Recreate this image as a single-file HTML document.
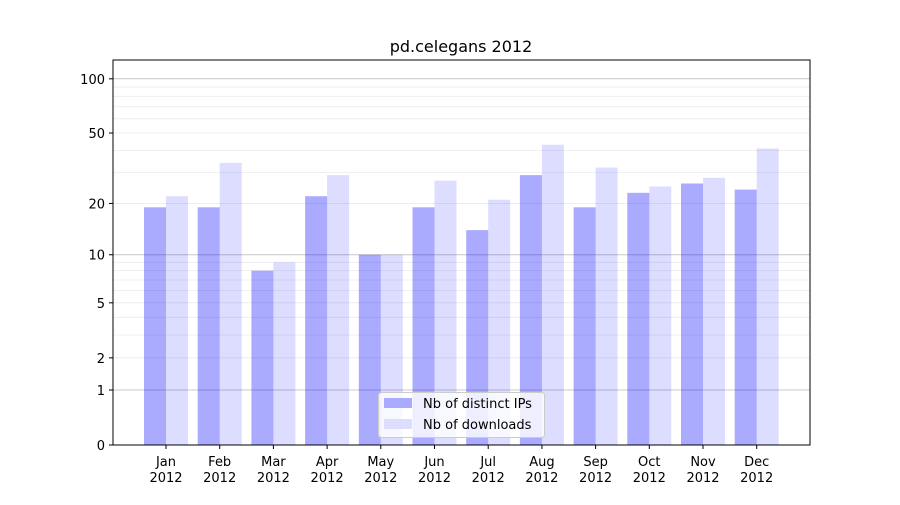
<!DOCTYPE html>
<html><head><meta charset="utf-8"><style>
body{margin:0;background:#fff;}
svg text{font-family:"DejaVu Sans","Liberation Sans",sans-serif;font-size:13px;fill:#000;}
</style></head><body>
<svg id="s" width="900" height="500" xmlns="http://www.w3.org/2000/svg"></svg>
<script>
var s=document.getElementById('s'),h='';
function Y(v){return 445-182.7*Math.log10(v+1);}
h+='<text x="461" y="52" text-anchor="middle" style="font-size:16px">pd.celegans 2012</text>';
for(var d=1;d<=100;d*=10)for(var k=2;k<=9;k++){var v=d*k;if(v>127)continue;var y=Y(v);h+='<line x1="113" x2="810" y1="'+y+'" y2="'+y+'" stroke="#ebebeb" stroke-width="0.8"/>';}
[1,10,100].forEach(function(v){var y=Y(v);h+='<line x1="113" x2="810" y1="'+y+'" y2="'+y+'" stroke="#c8c8c8" stroke-width="1"/>';});
var m=['Jan','Feb','Mar','Apr','May','Jun','Jul','Aug','Sep','Oct','Nov','Dec'];
var a=[19,19,8,22,10,19,14,29,19,23,26,24];
var b=[22,34,9,29,10,27,21,43,32,25,28,41];
for(var i=0;i<12;i++){var c=166+i*53.7;
h+='<rect x="'+(c-22)+'" y="'+Y(a[i])+'" width="22" height="'+(445-Y(a[i]))+'" fill="#0000ff" fill-opacity="0.333"/>';
h+='<rect x="'+c+'" y="'+Y(b[i])+'" width="22" height="'+(445-Y(b[i]))+'" fill="#0000ff" fill-opacity="0.133"/>';
h+='<line x1="'+c+'" x2="'+c+'" y1="445" y2="449" stroke="#000"/>';
h+='<text x="'+c+'" y="466" text-anchor="middle">'+m[i]+'</text><text x="'+c+'" y="482" text-anchor="middle">2012</text>';}
[0,1,2,5,10,20,50,100].forEach(function(v){var y=Y(v);h+='<line x1="109" x2="113" y1="'+y+'" y2="'+y+'" stroke="#000"/><text x="105" y="'+(y+5)+'" text-anchor="end">'+v+'</text>';});
h+='<rect x="113" y="60" width="697" height="385" fill="none" stroke="#000" stroke-width="1"/>';
h+='<rect x="378.5" y="392.5" width="166" height="45" rx="3" fill="#fff" fill-opacity="0.8" stroke="#ccc"/>';
h+='<rect x="384" y="398" width="28" height="10" fill="#aaaaff"/><text x="423" y="408">Nb of distinct IPs</text>';
h+='<rect x="384" y="419" width="28" height="10" fill="#ddddff"/><text x="423" y="429">Nb of downloads</text>';
s.innerHTML=h;
</script>
</body></html>
